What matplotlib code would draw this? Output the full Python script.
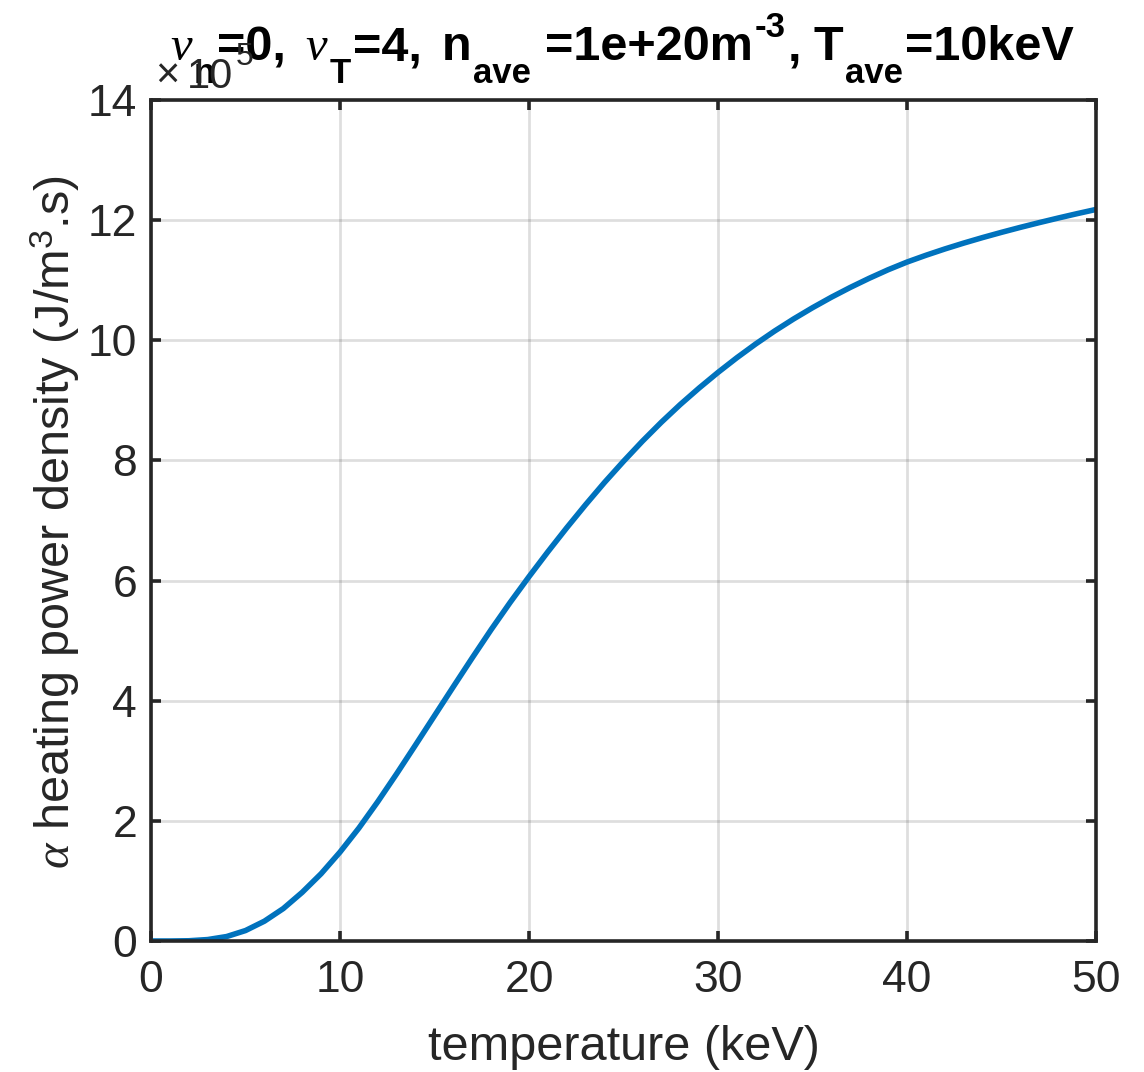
import numpy as np
import matplotlib
matplotlib.use("Agg")
import matplotlib.pyplot as plt
from matplotlib.transforms import IdentityTransform

# ---- data (y in units of 1e5 J/m^3.s) ----
temperature_keV = [0, 1, 2, 3, 4, 5, 6, 7, 8, 9, 10, 11, 12, 13, 14, 15, 16, 17,
                   18, 19, 20, 21, 22, 23, 24, 25, 26, 27, 28, 29, 30, 31, 32, 33,
                   34, 35, 36, 37, 38, 39, 40, 41, 42, 43, 44, 45, 46, 47, 48, 49, 50]
alpha_power_1e5 = [0.0, 0.0, 0.004, 0.024, 0.074, 0.174, 0.33, 0.54, 0.81, 1.12, 1.48,
                   1.88, 2.32, 2.785, 3.265, 3.75, 4.235, 4.715, 5.185, 5.635, 6.065,
                   6.48, 6.88, 7.265, 7.635, 7.985, 8.32, 8.635, 8.93, 9.205, 9.465,
                   9.71, 9.94, 10.155, 10.355, 10.542, 10.717, 10.88, 11.032, 11.174, 11.302,
                   11.415, 11.52, 11.618, 11.71, 11.797, 11.88, 11.959, 12.035, 12.108, 12.178]
x_ticks = [0, 10, 20, 30, 40, 50]
y_ticks = [0, 2, 4, 6, 8, 10, 12, 14]
x_label = 'temperature (keV)'
y_label = r'$\alpha$ heating power density (J/m$^3$.s)'

plt.rcParams['font.family'] = ['Liberation Sans', 'DejaVu Sans']
plt.rcParams['mathtext.fontset'] = 'custom'
plt.rcParams['mathtext.rm'] = 'Liberation Sans'
plt.rcParams['mathtext.bf'] = 'Liberation Sans:bold'
plt.rcParams['mathtext.it'] = 'Liberation Serif:italic'

W, H = 1144, 1072
axc = '#262626'
fig = plt.figure(figsize=(W / 100, H / 100), dpi=100)
L, R, T, B = 151, 1096, 100, 941
ax = fig.add_axes([L / W, 1 - B / H, (R - L) / W, (B - T) / H])

ax.plot(temperature_keV, alpha_power_1e5, color='#0072BD', lw=4.0,
        solid_joinstyle='round', zorder=3)

ax.set_xlim(0, 50)
ax.set_ylim(0, 14)
ax.set_xticks(x_ticks)
ax.set_yticks(y_ticks)
ax.grid(True, color=axc, alpha=0.15, lw=2.0)
ax.set_axisbelow(True)
for s in ax.spines.values():
    s.set_color(axc)
    s.set_linewidth(2.6)
    s.set_zorder(4)
ax.tick_params(direction='in', length=7.5, width=2.6, colors=axc, labelsize=32,
               top=True, right=True)
ax.tick_params(axis='x', pad=14)
ax.tick_params(axis='y', pad=10)

# axis labels placed as in the reference
fig.text(623.5, H - 1060, x_label, transform=IdentityTransform(), fontsize=35,
         color=axc, ha='center', va='baseline')
fig.text(70, H - 522, y_label, transform=IdentityTransform(), fontsize=35,
         color=axc, ha='center', va='baseline', rotation=90, rotation_mode='anchor')

renderer = fig.canvas.get_renderer()


def rich(pieces, x0, baseline, color, center=False):
    """pieces: (text, size, weight, family, style, dy_px, gap_px_after)"""
    arts = []
    x = 0.0
    for s, size, weight, fam, style, dy, gap in pieces:
        t = fig.text(x0 + x, H - baseline + dy, s, transform=IdentityTransform(),
                     fontsize=size, fontweight=weight, family=fam, fontstyle=style,
                     color=color, ha='left', va='baseline')
        bb = t.get_window_extent(renderer)
        arts.append((t, x))
        x += bb.width + gap
    if center:
        shift = -x / 2
        for t, xx in arts:
            t.set_position((x0 + xx + shift, t.get_position()[1]))
    return arts


SANS = ['Liberation Sans', 'DejaVu Sans']
SERIF = ['Liberation Serif', 'DejaVu Serif']
M, S = 35, 25
title_pieces = [
    ('\u03bd', M, 'normal', SERIF, 'italic', 0, 2),
    ('n', S, 'bold', SANS, 'normal', -23, 2),
    ('=0,', M, 'bold', SANS, 'normal', 0, 20),
    ('\u03bd', M, 'normal', SERIF, 'italic', 0, 2),
    ('T', S, 'bold', SANS, 'normal', -23, 2),
    ('=4,', M, 'bold', SANS, 'normal', 0, 20),
    ('n', M, 'bold', SANS, 'normal', 0, 2),
    ('ave', S, 'bold', SANS, 'normal', -23, 14),
    ('=1e+20m', M, 'bold', SANS, 'normal', 0, 2),
    ('-3', S, 'bold', SANS, 'normal', 23, 2),
    (',', M, 'bold', SANS, 'normal', 0, 12),
    ('T', M, 'bold', SANS, 'normal', 0, 2),
    ('ave', S, 'bold', SANS, 'normal', -23, 2),
    ('=10keV', M, 'bold', SANS, 'normal', 0, 0),
]
rich(title_pieces, 622, 60, 'black', center=True)

rich([
    ('\u00d7', 30, 'normal', SANS, 'normal', 0, 8),
    ('10', 30, 'normal', SANS, 'normal', 0, 2),
    ('5', 23, 'normal', SANS, 'normal', 23, 0),
], 155, 88, axc)

fig.savefig('out.png', dpi=100)
